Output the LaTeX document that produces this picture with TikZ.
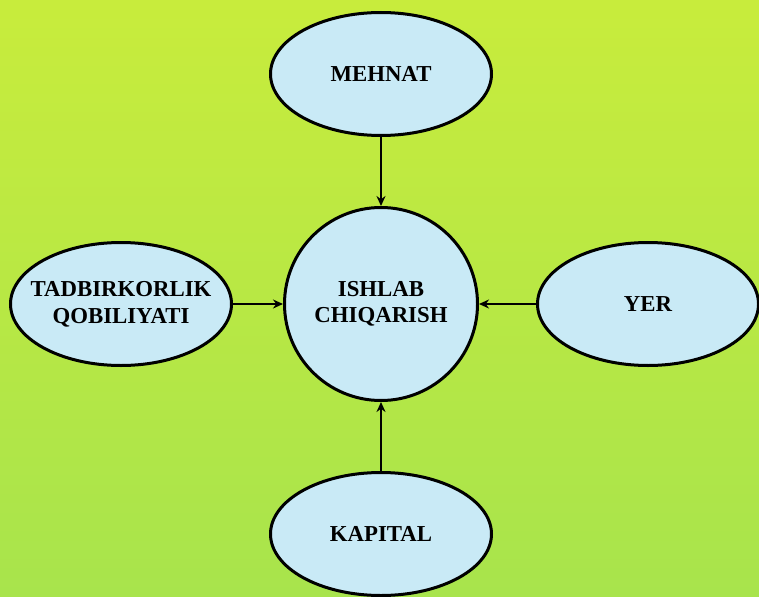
\documentclass[tikz,border=0pt]{standalone}
\usepackage{fontspec}
\setmainfont{Liberation Serif}
\usetikzlibrary{shapes.geometric,arrows.meta}
\definecolor{bgtop}{HTML}{C8EC3C}
\definecolor{bgbot}{HTML}{A8E44C}
\definecolor{nodefill}{HTML}{C9EAF6}
\tikzset{
  ovalbox/.style={ellipse, draw=black, line width=3pt, fill=nodefill, inner sep=0pt,
    minimum width=221pt, minimum height=123pt, align=center,
    font=\bfseries\fontsize{22.8}{27}\selectfont},
  roundbox/.style={circle, draw=black, line width=3pt, fill=nodefill, inner sep=0pt,
    minimum size=193pt, align=center,
    font=\bfseries\fontsize{22.8}{26}\selectfont},
  link/.style={line width=2.4pt, -{Stealth[length=10pt,width=9pt]}}
}
\begin{document}
\begin{tikzpicture}[x=1pt,y=-1pt]
\useasboundingbox (0,0) rectangle (759,596);
\fill[top color=bgtop, bottom color=bgbot] (0,0) rectangle (759,596);
\node[roundbox] (ishlab) at (381,304) {ISHLAB\\CHIQARISH};
\node[ovalbox] (mehnat) at (381,74) {MEHNAT};
\node[ovalbox, text width=100pt] (tadbir) at (121,304) {\makebox[\linewidth][c]{TADBIRKORLIK}\\\makebox[\linewidth][c]{QOBILIYATI}};
\node[ovalbox] (yer) at (648,304) {YER};
\node[ovalbox] (kapital) at (381,534) {KAPITAL};
\draw[link] (mehnat.south) -- (ishlab.north);
\draw[link] (tadbir.east) -- (ishlab.west);
\draw[link] (yer.west) -- (ishlab.east);
\draw[link] (kapital.north) -- (ishlab.south);
\end{tikzpicture}
\end{document}
